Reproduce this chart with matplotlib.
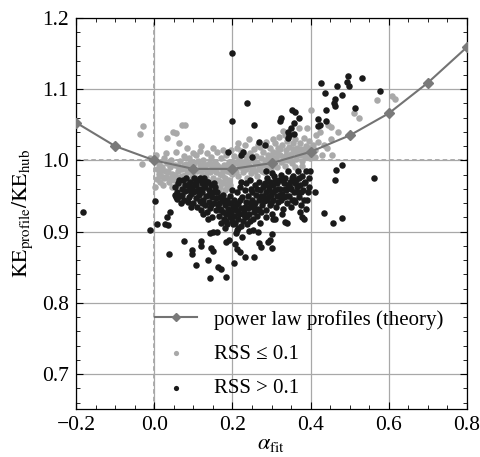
import matplotlib
matplotlib.use("Agg")
import matplotlib.pyplot as plt
from matplotlib.ticker import MultipleLocator

plt.rcParams['font.family'] = ['Liberation Serif', 'DejaVu Serif']
plt.rcParams['mathtext.fontset'] = 'stix'

# Theory curve: power law profiles
theory_alpha = [-0.2, -0.1, 0.0, 0.1, 0.2, 0.3, 0.4, 0.5, 0.6, 0.7, 0.8]
theory_ke = [1.053, 1.020, 1.000, 0.988, 0.988, 0.996, 1.012, 1.035, 1.066, 1.109, 1.159]

# RSS <= 0.1 (gray points)
gray_pts = [
    (-0.036, 1.037), (-0.028, 1.048), (-0.032, 0.995), (-0.012, 1.003),
    (0.005, 1.008), (0.012, 0.995), (0.008, 0.988), (0.011, 0.981), (0.006, 0.974), (0.015, 0.970),
    (0.002, 0.962), (0.020, 0.990), (0.024, 1.003), (0.028, 0.985), (0.031, 0.976), (0.033, 0.996),
    (0.030, 1.010), (0.032, 1.032), (0.038, 0.969), (0.040, 0.990), (0.043, 1.001), (0.046, 0.981),
    (0.049, 1.040), (0.056, 1.038), (0.050, 0.972), (0.053, 0.994), (0.057, 1.012), (0.060, 0.985),
    (0.063, 1.024), (0.065, 0.976), (0.067, 0.999), (0.070, 1.050), (0.072, 0.988), (0.075, 1.006),
    (0.078, 0.979), (0.080, 1.050), (0.082, 0.995), (0.085, 1.018), (0.087, 0.984), (0.090, 1.003),
    (0.093, 0.990), (0.096, 0.976), (0.098, 1.010), (0.100, 0.983), (0.018, 0.978), (0.036, 0.983),
    (0.045, 0.962), (0.058, 0.965), (0.022, 0.965), (0.068, 0.968), (0.088, 0.972), (0.076, 0.993),
    (0.103, 0.996), (0.106, 0.975), (0.108, 1.008), (0.110, 0.985), (0.113, 0.968), (0.116, 0.993),
    (0.118, 1.013), (0.121, 0.980), (0.124, 0.972), (0.126, 1.001), (0.129, 0.988), (0.132, 0.977),
    (0.134, 1.010), (0.137, 0.995), (0.140, 0.970), (0.142, 0.983), (0.145, 1.004), (0.148, 0.991),
    (0.150, 0.975), (0.153, 0.965), (0.156, 0.998), (0.158, 0.983), (0.161, 1.012), (0.163, 0.972),
    (0.166, 0.990), (0.168, 0.962), (0.171, 1.003), (0.173, 0.979), (0.176, 0.968), (0.178, 0.994),
    (0.181, 0.958), (0.183, 1.008), (0.185, 0.963), (0.187, 0.985), (0.190, 0.972), (0.192, 0.998),
    (0.195, 0.966), (0.197, 1.015), (0.199, 0.981), (0.200, 0.992), (0.120, 1.020), (0.150, 1.017),
    (0.175, 1.015), (0.165, 0.955), (0.180, 0.975),
    (0.203, 1.006), (0.206, 0.987), (0.209, 0.996), (0.212, 1.017), (0.214, 0.978), (0.217, 1.002),
    (0.220, 0.990), (0.223, 1.013), (0.226, 0.983), (0.228, 0.998), (0.231, 1.021), (0.234, 1.006),
    (0.236, 0.988), (0.239, 0.995), (0.242, 1.030), (0.244, 1.010), (0.247, 0.982), (0.250, 1.001),
    (0.253, 0.991), (0.255, 1.016), (0.258, 0.985), (0.260, 1.006), (0.263, 0.996), (0.266, 1.022),
    (0.268, 0.988), (0.271, 1.019), (0.273, 1.003), (0.276, 0.993), (0.278, 1.011), (0.281, 0.984),
    (0.284, 1.000), (0.286, 1.026), (0.289, 0.990), (0.291, 1.008), (0.294, 0.997), (0.296, 1.017),
    (0.299, 0.986), (0.300, 1.004), (0.215, 1.025), (0.262, 0.978), (0.238, 0.975),
    (0.303, 1.012), (0.306, 0.994), (0.308, 1.025), (0.311, 1.003), (0.314, 0.990), (0.316, 1.018),
    (0.319, 1.033), (0.321, 1.008), (0.324, 0.997), (0.327, 1.021), (0.329, 1.041), (0.332, 1.005),
    (0.334, 0.992), (0.337, 1.014), (0.340, 1.027), (0.342, 1.000), (0.345, 1.019), (0.348, 1.035),
    (0.350, 1.009), (0.353, 0.996), (0.356, 1.024), (0.358, 1.013), (0.361, 1.030), (0.363, 1.002),
    (0.366, 1.017), (0.369, 1.045), (0.372, 1.008), (0.374, 1.024), (0.377, 0.999), (0.380, 1.014),
    (0.383, 1.032), (0.385, 1.005), (0.388, 1.020), (0.390, 1.046), (0.393, 1.011), (0.396, 1.027),
    (0.398, 1.003), (0.360, 0.990), (0.378, 0.992),
    (0.402, 1.070), (0.406, 1.022), (0.410, 1.015), (0.415, 1.035), (0.420, 1.026), (0.428, 1.007),
    (0.433, 1.022), (0.441, 1.017), (0.445, 1.050), (0.451, 1.047), (0.453, 1.030), (0.454, 1.008),
    (0.471, 1.040), (0.511, 1.066), (0.524, 1.060), (0.571, 1.085), (0.608, 1.090), (0.616, 1.086),
    (0.412, 1.005), (0.425, 1.040),
    (0.052, 0.980), (0.062, 0.992), (0.071, 0.978), (0.083, 0.986), (0.091, 0.996), (0.102, 0.988),
    (0.111, 0.999), (0.119, 0.987), (0.127, 0.994), (0.135, 0.983), (0.143, 0.996), (0.152, 0.986),
    (0.160, 0.993), (0.168, 0.981), (0.177, 0.987), (0.186, 0.993), (0.194, 0.983), (0.202, 0.998),
    (0.210, 0.984), (0.218, 0.995), (0.227, 0.990), (0.235, 0.999), (0.243, 0.992), (0.251, 0.986),
    (0.259, 0.997), (0.267, 0.993), (0.275, 0.985), (0.283, 0.994), (0.292, 1.002), (0.298, 0.995),
    (0.307, 1.001), (0.313, 1.010), (0.322, 1.016), (0.330, 1.000), (0.338, 1.008), (0.346, 1.003),
    (0.354, 1.016), (0.365, 1.010), (0.375, 1.016), (0.386, 1.012), (0.395, 1.018), (0.304, 1.030),
    (0.335, 1.035), (0.015, 0.985), (0.025, 0.975), (0.042, 0.975), (0.170, 0.970), (0.188, 0.968),
    (0.160, 0.962), (0.145, 0.960),
]

# RSS > 0.1 (black points)
black_pts = [
    (-0.181, 0.927), (0.002, 0.943), (-0.012, 0.902), (0.008, 0.911),
    (0.037, 0.868), (0.028, 0.911), (0.036, 0.909), (0.033, 0.920), (0.040, 0.927),
    (0.077, 0.887), (0.096, 0.874), (0.096, 0.869), (0.106, 0.853), (0.120, 0.887), (0.119, 0.880),
    (0.138, 0.860), (0.143, 0.835), (0.145, 0.877), (0.150, 0.873), (0.163, 0.850), (0.172, 0.848),
    (0.183, 0.836), (0.143, 0.898), (0.150, 0.899), (0.161, 0.899), (0.183, 0.885), (0.190, 0.888),
    (0.204, 0.856), (0.206, 0.882), (0.211, 0.875), (0.208, 0.898), (0.211, 0.902), (0.219, 0.871),
    (0.225, 0.892), (0.233, 0.864), (0.255, 0.864), (0.242, 0.901), (0.253, 0.902), (0.265, 0.900),
    (0.268, 0.884), (0.273, 0.878), (0.292, 0.885), (0.296, 0.888), (0.300, 0.877), (0.301, 0.897),
    (0.339, 0.912), (0.335, 0.913), (0.305, 0.917), (0.379, 0.921), (0.384, 0.918), (0.388, 0.932),
    (0.373, 0.927), (0.411, 0.956), (0.434, 0.926), (0.456, 0.912), (0.480, 0.919),
    (0.464, 0.987), (0.480, 0.993), (0.463, 0.973), (0.562, 0.975),
    (0.200, 1.150), (0.198, 1.055), (0.238, 1.080), (0.255, 1.050), (0.323, 1.060), (0.322, 1.055),
    (0.352, 1.071), (0.360, 1.068), (0.370, 1.060), (0.358, 1.052), (0.350, 1.046), (0.342, 1.040),
    (0.344, 1.035), (0.342, 1.032), (0.358, 1.037), (0.267, 1.026), (0.284, 1.022), (0.227, 1.011),
    (0.222, 1.007), (0.251, 1.005), (0.188, 1.012), (0.427, 1.108), (0.438, 1.094), (0.467, 1.105),
    (0.481, 1.092), (0.495, 1.118), (0.492, 1.110), (0.497, 1.104), (0.462, 1.086), (0.459, 1.080),
    (0.463, 1.076), (0.532, 1.115), (0.578, 1.097), (0.513, 1.073), (0.439, 1.070), (0.419, 1.058),
    (0.424, 1.049), (0.419, 1.048), (0.439, 1.055),
    (0.053, 0.962), (0.058, 0.955), (0.062, 0.968), (0.066, 0.950), (0.070, 0.960), (0.074, 0.972),
    (0.077, 0.945), (0.079, 0.957), (0.055, 0.948), (0.068, 0.940), (0.053, 0.951), (0.058, 0.946),
    (0.082, 0.975), (0.085, 0.965), (0.088, 0.958), (0.090, 0.948), (0.092, 0.970), (0.095, 0.953),
    (0.097, 0.963), (0.099, 0.940), (0.101, 0.975), (0.104, 0.957), (0.106, 0.947), (0.108, 0.966),
    (0.110, 0.935), (0.112, 0.972), (0.114, 0.952), (0.116, 0.960), (0.118, 0.943), (0.119, 0.930),
    (0.121, 0.968), (0.123, 0.955), (0.125, 0.945), (0.127, 0.975), (0.129, 0.937), (0.131, 0.962),
    (0.133, 0.950), (0.135, 0.928), (0.137, 0.970), (0.139, 0.942), (0.141, 0.958), (0.143, 0.933),
    (0.145, 0.966), (0.147, 0.948), (0.149, 0.920), (0.151, 0.955), (0.153, 0.940), (0.155, 0.962),
    (0.157, 0.930), (0.159, 0.947),
    (0.161, 0.955), (0.163, 0.938), (0.165, 0.922), (0.167, 0.948), (0.169, 0.932), (0.171, 0.912),
    (0.173, 0.943), (0.175, 0.927), (0.177, 0.952), (0.179, 0.918), (0.181, 0.937), (0.183, 0.925),
    (0.185, 0.945), (0.187, 0.910), (0.189, 0.932), (0.191, 0.940), (0.193, 0.920), (0.195, 0.950),
    (0.197, 0.928), (0.199, 0.915), (0.198, 0.958),
    (0.201, 0.935), (0.203, 0.922), (0.205, 0.945), (0.207, 0.912), (0.209, 0.930), (0.211, 0.955),
    (0.213, 0.918), (0.215, 0.940), (0.217, 0.925), (0.219, 0.962), (0.221, 0.908), (0.223, 0.933),
    (0.225, 0.948), (0.227, 0.915), (0.229, 0.928), (0.231, 0.958), (0.233, 0.920), (0.235, 0.942),
    (0.237, 0.910), (0.239, 0.933), (0.222, 0.970), (0.236, 0.968),
    (0.241, 0.950), (0.243, 0.925), (0.245, 0.915), (0.247, 0.960), (0.249, 0.935), (0.251, 0.945),
    (0.253, 0.918), (0.255, 0.928), (0.257, 0.965), (0.259, 0.940), (0.261, 0.952), (0.263, 0.922),
    (0.265, 0.932), (0.267, 0.970), (0.269, 0.945), (0.271, 0.958), (0.273, 0.927), (0.275, 0.938),
    (0.277, 0.962), (0.279, 0.950), (0.246, 0.972), (0.270, 0.912),
    (0.281, 0.943), (0.283, 0.968), (0.285, 0.955), (0.287, 0.930), (0.289, 0.975), (0.291, 0.948),
    (0.293, 0.962), (0.295, 0.937), (0.297, 0.970), (0.299, 0.952), (0.301, 0.925), (0.303, 0.965),
    (0.305, 0.945), (0.307, 0.978), (0.309, 0.958), (0.311, 0.935), (0.313, 0.968), (0.315, 0.950),
    (0.317, 0.942), (0.319, 0.972), (0.300, 0.982), (0.286, 0.985),
    (0.321, 0.960), (0.323, 0.945), (0.325, 0.980), (0.327, 0.953), (0.329, 0.932), (0.331, 0.968),
    (0.333, 0.948), (0.335, 0.975), (0.337, 0.958), (0.339, 0.940), (0.341, 0.965), (0.343, 0.985),
    (0.345, 0.950), (0.347, 0.970), (0.349, 0.935), (0.351, 0.960), (0.353, 0.945), (0.355, 0.978),
    (0.357, 0.955), (0.359, 0.968),
    (0.361, 0.942), (0.363, 0.973), (0.365, 0.955), (0.367, 0.985), (0.369, 0.948), (0.372, 0.965),
    (0.375, 0.938), (0.378, 0.978), (0.380, 0.958), (0.383, 0.945), (0.386, 0.970), (0.389, 0.985),
    (0.392, 0.955), (0.395, 0.962), (0.398, 0.985),
    (0.064, 0.973), (0.072, 0.952), (0.080, 0.966), (0.086, 0.942), (0.093, 0.961), (0.100, 0.955),
    (0.105, 0.968), (0.111, 0.958), (0.117, 0.975), (0.122, 0.940), (0.128, 0.962), (0.134, 0.970),
    (0.140, 0.952), (0.146, 0.938), (0.152, 0.968), (0.158, 0.956), (0.094, 0.935), (0.126, 0.925),
    (0.138, 0.918),
    (0.166, 0.940), (0.172, 0.930), (0.178, 0.945), (0.184, 0.915), (0.190, 0.925), (0.196, 0.940),
    (0.202, 0.910), (0.208, 0.938), (0.214, 0.928), (0.220, 0.945), (0.226, 0.925), (0.232, 0.935),
    (0.238, 0.922), (0.180, 0.905), (0.214, 0.905),
    (0.244, 0.940), (0.250, 0.955), (0.256, 0.935), (0.262, 0.960), (0.268, 0.930), (0.274, 0.950),
    (0.280, 0.965), (0.288, 0.945), (0.294, 0.958), (0.298, 0.940), (0.304, 0.955), (0.310, 0.972),
    (0.316, 0.960), (0.322, 0.952), (0.328, 0.972), (0.334, 0.960), (0.340, 0.950), (0.346, 0.962),
    (0.352, 0.975), (0.358, 0.945), (0.364, 0.962), (0.370, 0.975), (0.376, 0.955), (0.382, 0.968),
    (0.390, 0.945), (0.396, 0.975), (0.285, 0.920), (0.310, 0.918), (0.326, 0.925),
]

gray_x = [p[0] for p in gray_pts]
gray_y = [p[1] for p in gray_pts]
black_x = [p[0] for p in black_pts]
black_y = [p[1] for p in black_pts]

fig = plt.figure(figsize=(4.81, 4.57), dpi=100)
ax = fig.add_axes([0.158, 0.105, 0.813, 0.856])

ax.set_xlim(-0.2, 0.8)
ax.set_ylim(0.651, 1.2)

ax.xaxis.set_major_locator(MultipleLocator(0.2))
ax.xaxis.set_minor_locator(MultipleLocator(0.05))
ax.yaxis.set_major_locator(MultipleLocator(0.1))
ax.yaxis.set_minor_locator(MultipleLocator(0.02))

ax.grid(True, which='major', color='#a8a8a8', linewidth=0.9, zorder=0)
ax.axvline(0.0, color='#999999', linestyle=(0, (3, 2)), linewidth=1.1, zorder=1)
ax.axhline(1.0, color='#999999', linestyle=(0, (3, 2)), linewidth=1.1, zorder=1)

ax.scatter(gray_x, gray_y, s=22, color='#a9a9a9', linewidths=0, zorder=2, label='RSS \u2264 0.1')
ax.scatter(black_x, black_y, s=22, color='#1a1a1a', linewidths=0, zorder=3, label='RSS > 0.1')
ax.plot(theory_alpha, theory_ke, color='#737373', linewidth=1.5, marker='D', markersize=5.5,
        markerfacecolor='#7a7a7a', markeredgecolor='#7a7a7a', zorder=4,
        label='power law profiles (theory)')

ax.tick_params(which='both', direction='in', top=True, right=True, labelsize=15.5)
ax.tick_params(which='major', length=5, width=0.8, pad=5)
ax.tick_params(which='minor', length=3, width=0.6)
ax.set_xticks([-0.2, 0.0, 0.2, 0.4, 0.6, 0.8])
ax.set_xticklabels(['\u22120.2', '0.0', '0.2', '0.4', '0.6', '0.8'])
for sp in ax.spines.values():
    sp.set_linewidth(0.9)

ax.set_xlabel(r'$\alpha_{\mathrm{fit}}$', fontsize=16, labelpad=0)
ax.set_ylabel(r'$\mathrm{KE}_{\mathrm{profile}}/\mathrm{KE}_{\mathrm{hub}}$', fontsize=15.5, labelpad=5)

handles, labels = ax.get_legend_handles_labels()
order = [2, 0, 1]
ax.legend([handles[i] for i in order], [labels[i] for i in order], loc='lower left',
          bbox_to_anchor=(0.202, 0.028), frameon=False, fontsize=15, handlelength=2.0,
          handletextpad=0.85, markerscale=0.8, labelspacing=0.7, borderpad=0,
          borderaxespad=0)

fig.savefig('out.png', dpi=100)
